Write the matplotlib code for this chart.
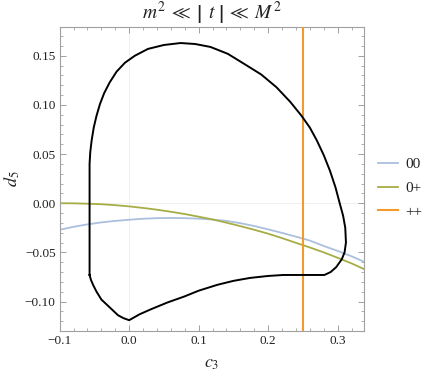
import matplotlib
matplotlib.use("Agg")
import matplotlib.pyplot as plt
from matplotlib.ticker import MultipleLocator

plt.rcParams['font.family'] = ['Liberation Serif', 'DejaVu Serif']
plt.rcParams['mathtext.fontset'] = 'stix'

# Allowed-region boundary (c3, d5)
c3_boundary = [-0.057, -0.057, -0.057, -0.056, -0.054, -0.051, -0.047, -0.042, -0.036, -0.028,
               -0.018, -0.006, 0.008, 0.027, 0.050, 0.074, 0.095, 0.117, 0.142, 0.165,
               0.190, 0.212, 0.232, 0.248, 0.260, 0.270, 0.280, 0.289, 0.297, 0.303,
               0.308, 0.311, 0.312, 0.310, 0.306, 0.298, 0.290, 0.281, 0.250, 0.222,
               0.200, 0.174, 0.150, 0.127, 0.100, 0.079, 0.055, 0.031, 0.015, 0.000,
               -0.008, -0.016, -0.028, -0.040, -0.047, -0.052, -0.055, -0.057]
d5_boundary = [-0.073, 0.000, 0.040, 0.052, 0.064, 0.077, 0.089, 0.101, 0.112, 0.123,
               0.134, 0.143, 0.150, 0.157, 0.161, 0.163, 0.162, 0.159, 0.152, 0.142,
               0.131, 0.118, 0.103, 0.089, 0.077, 0.064, 0.049, 0.033, 0.016, 0.000,
               -0.013, -0.025, -0.040, -0.050, -0.057, -0.065, -0.070, -0.073, -0.073, -0.073,
               -0.074, -0.076, -0.079, -0.083, -0.089, -0.095, -0.101, -0.108, -0.113, -0.119,
               -0.117, -0.114, -0.106, -0.098, -0.090, -0.083, -0.078, -0.073]

# Helicity curves
c3_line = [-0.10, -0.08, -0.06, -0.04, -0.02, 0.00, 0.02, 0.04, 0.06, 0.08, 0.10, 0.12,
           0.14, 0.16, 0.18, 0.20, 0.22, 0.24, 0.26, 0.28, 0.30, 0.32, 0.338]
d5_00 = [-0.027, -0.024, -0.0215, -0.0195, -0.018, -0.0168, -0.0158, -0.0152, -0.0150, -0.0152,
         -0.0157, -0.0166, -0.0180, -0.0203, -0.0232, -0.0266, -0.0302, -0.0340, -0.0380,
         -0.0435, -0.0485, -0.0540, -0.0595]
d5_0p = [0.000, -0.0001, -0.0005, -0.0010, -0.0020, -0.0032, -0.0048, -0.0066, -0.0087, -0.0110,
         -0.0137, -0.0165, -0.0198, -0.0233, -0.0270, -0.0310, -0.0355, -0.0403, -0.0450,
         -0.0500, -0.0555, -0.0612, -0.0670]
c3_pp = 0.25

labels = ['00', '0+', '++']
colors = ['#abc0dc', '#a7ad45', '#f29b2a']

fig = plt.figure(figsize=(4.27, 3.76), dpi=100)
ax = fig.add_axes([0.1398, 0.1197, 0.7127, 0.8077])

ax.axhline(0, color='#ececec', lw=0.6, zorder=0)
ax.axvline(0, color='#ececec', lw=0.6, zorder=0)

ax.plot(c3_line, d5_00, color=colors[0], lw=1.3, label=labels[0], zorder=2)
ax.plot(c3_line, d5_0p, color=colors[1], lw=1.3, label=labels[1], zorder=2)
ax.axvline(c3_pp, color=colors[2], lw=1.5, label=labels[2], zorder=3)
ax.plot(c3_boundary, d5_boundary, color='black', lw=1.4, zorder=4, solid_joinstyle='round')

ax.set_xlim(-0.1, 0.338)
ax.set_ylim(-0.13, 0.179)

ax.xaxis.set_minor_locator(MultipleLocator(0.02))
ax.yaxis.set_minor_locator(MultipleLocator(0.01))
ax.set_xticks([-0.1, 0.0, 0.1, 0.2, 0.3])
ax.set_xticklabels(['\u22120.1', '0.0', '0.1', '0.2', '0.3'])
ax.set_yticks([-0.10, -0.05, 0.00, 0.05, 0.10, 0.15])
ax.set_yticklabels(['\u22120.10', '\u22120.05', '0.00', '0.05', '0.10', '0.15'])

for s in ax.spines.values():
    s.set_color('#a0a0a0')
    s.set_linewidth(0.8)
ax.tick_params(which='both', direction='in', top=True, right=True, color='#a0a0a0',
               labelsize=9.5, labelcolor='#222222', pad=3)
ax.tick_params(which='major', length=4, width=0.7)
ax.tick_params(which='minor', length=2, width=0.6)

ax.set_title(r'$m^2 \;\ll\; \left|\;\, t^{\,}_{\,}\right| \;\ll\; M^2$', fontsize=14, pad=4, color='#222222')
ax.set_xlabel(r'$c_3$', fontsize=13, labelpad=6, color='#222222')
ax.set_ylabel(r'$d_5$', fontsize=13, labelpad=2, color='#222222')

leg = ax.legend(loc='center left', bbox_to_anchor=(1.0, 0.47), frameon=False,
                fontsize=11, handlelength=1.3, handletextpad=0.5, labelspacing=0.65,
                borderaxespad=0.5)
for t in leg.get_texts():
    t.set_color('#222222')

fig.savefig('out.png', dpi=100)
